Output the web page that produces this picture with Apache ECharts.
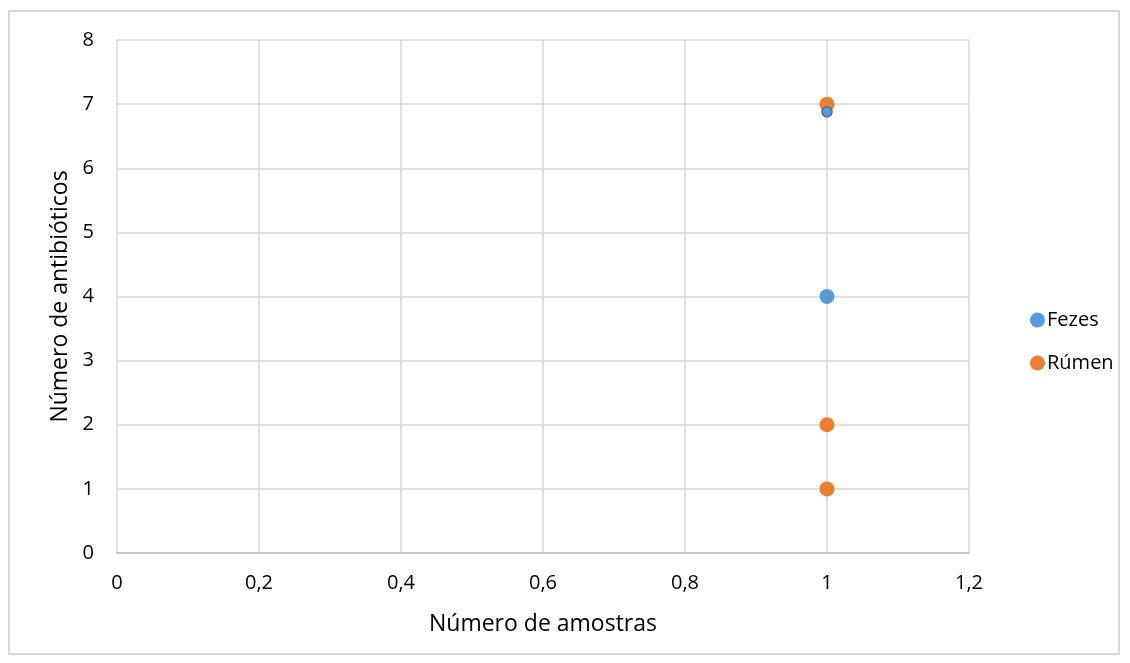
<!DOCTYPE html>
<html>
<head>
<meta charset="utf-8">
<script src="https://cdn.jsdelivr.net/npm/echarts@6/dist/echarts.min.js"></script>
<style>
  html, body { margin: 0; padding: 0; background: #fff; }
  #frame { position: absolute; left: 8px; top: 10px; width: 1112px; height: 645px; border: 2px solid #d9d9d9; box-sizing: border-box; }
  #chart { position: absolute; left: 0; top: 0; width: 1130px; height: 663px; }
</style>
</head>
<body>
<div id="frame"></div>
<div id="chart"></div>
<script>
// Number of samples (x) vs number of antibiotics (y)
const fezesPoints = [[1, 4]];
const fezesSmallPoints = [[1, 6.88]];
const rumenPoints = [[1, 7], [1, 2], [1, 1]];
const xTicks = [0, 0.2, 0.4, 0.6, 0.8, 1, 1.2];
const yTicks = [0, 1, 2, 3, 4, 5, 6, 7, 8];
const seriesNames = ['Fezes', 'Rúmen'];

const FONT = '"Open Sans", "Noto Sans", sans-serif';
const BLUE = '#5B9BD5';
const ORANGE = '#ED7D31';

const chart = echarts.init(document.getElementById('chart'), null, { renderer: 'canvas' });
chart.setOption({
  animation: false,
  textStyle: { fontFamily: FONT },
  grid: { left: 117, right: 161, top: 40, bottom: 110 },
  legend: {
    data: seriesNames,
    orient: 'vertical',
    left: 1025,
    top: 305,
    itemGap: 23,
    itemWidth: 15,
    itemHeight: 15,
    itemStyle: { borderWidth: 0 },
    icon: 'circle',
    textStyle: { fontFamily: FONT, fontSize: 20, color: '#000', padding: [0, 0, 0, -3] }
  },
  xAxis: {
    type: 'value',
    min: xTicks[0],
    max: xTicks[xTicks.length - 1],
    interval: 0.2,
    name: 'Número de amostras',
    nameLocation: 'middle',
    nameGap: 60,
    nameTextStyle: { fontFamily: FONT, fontSize: 23, color: '#000' },
    axisLine: { show: true, lineStyle: { color: '#bfbfbf', width: 1.5 } },
    axisTick: { show: false },
    axisLabel: {
      fontFamily: FONT, fontSize: 20, color: '#000', margin: 20,
      formatter: v => String(Math.round(v * 10) / 10).replace('.', ',')
    },
    splitLine: { show: true, lineStyle: { color: '#d9d9d9', width: 1.5 } }
  },
  yAxis: {
    type: 'value',
    min: yTicks[0],
    max: yTicks[yTicks.length - 1],
    interval: 1,
    name: 'Número de antibióticos',
    nameLocation: 'middle',
    nameGap: 45,
    nameTextStyle: { fontFamily: FONT, fontSize: 23, color: '#000' },
    axisLine: { show: false },
    axisTick: { show: false },
    axisLabel: { fontFamily: FONT, fontSize: 20, color: '#000', margin: 23 },
    splitLine: { show: true, lineStyle: { color: '#d9d9d9', width: 1.5 } }
  },
  series: [
    {
      name: seriesNames[0],
      type: 'scatter',
      data: fezesPoints,
      symbolSize: 15,
      itemStyle: { color: BLUE, opacity: 1 },
      z: 2
    },
    {
      name: seriesNames[1],
      type: 'scatter',
      data: rumenPoints,
      symbolSize: 15,
      itemStyle: { color: ORANGE, opacity: 1 },
      z: 3
    },
    {
      name: seriesNames[0],
      type: 'scatter',
      data: fezesSmallPoints,
      symbolSize: 10,
      itemStyle: { color: BLUE, borderColor: '#41719C', borderWidth: 1.5, opacity: 1 },
      z: 4
    }
  ]
});
</script>
</body>
</html>
